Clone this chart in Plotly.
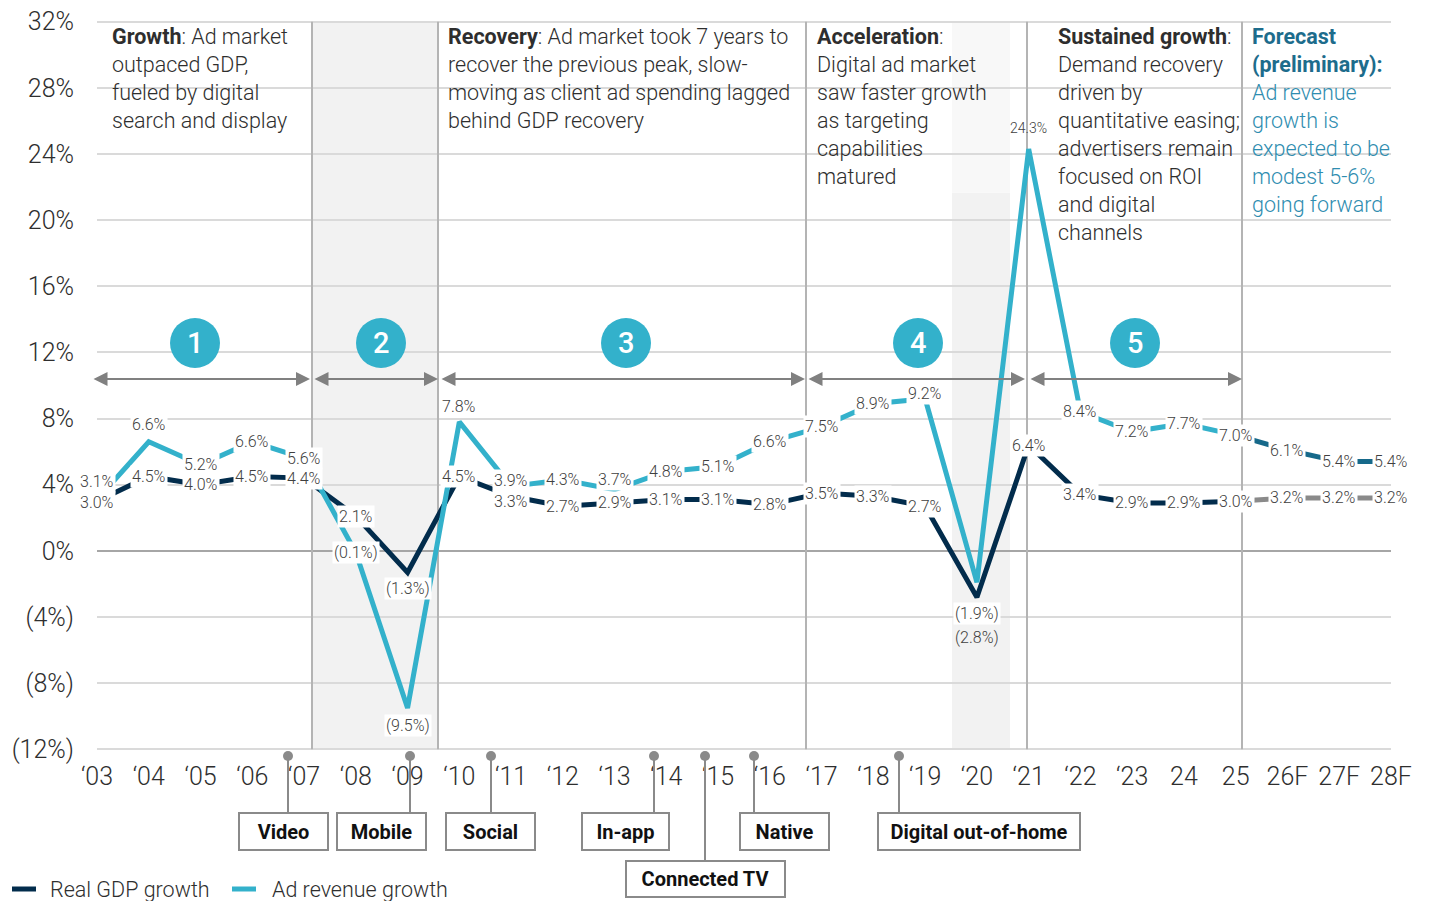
import plotly.graph_objects as go

# ---------------- data ----------------
years = ["‘03", "‘04", "‘05", "‘06", "‘07", "‘08", "‘09", "‘10", "‘11", "‘12", "‘13",
         "‘14", "‘15", "‘16", "‘17", "‘18", "‘19", "‘20", "‘21", "‘22", "‘23", "24",
         "25", "26F", "27F", "28F"]
ad_revenue = [3.1, 6.6, 5.2, 6.6, 5.6, -0.1, -9.5, 7.8, 3.9, 4.3, 3.7, 4.8, 5.1, 6.6,
              7.5, 8.9, 9.2, -1.9, 24.3, 8.4, 7.2, 7.7, 7.0, 6.1, 5.4, 5.4]
real_gdp = [3.0, 4.5, 4.0, 4.5, 4.4, 2.1, -1.3, 4.5, 3.3, 2.7, 2.9, 3.1, 3.1, 2.8,
            3.5, 3.3, 2.7, -2.8, 6.4, 3.4, 2.9, 2.9, 3.0, 3.2, 3.2, 3.2]
forecast_start = 22  # index of '25', forecast segments start here
series_names = ["Real GDP growth", "Ad revenue growth"]

y_ticks = [-12, -8, -4, 0, 4, 8, 12, 16, 20, 24, 28, 32]
y_ticktext = ["(12%)", "(8%)", "(4%)", "0%", "4%", "8%", "12%", "16%", "20%", "24%", "28%", "32%"]

phase_numbers = ["1", "2", "3", "4", "5"]
phase_texts = [
    "<b>Growth</b>: Ad market<br>outpaced GDP,<br>fueled by digital<br>search and display",
    "<b>Recovery</b>: Ad market took 7 years to<br>recover the previous peak, slow-<br>moving as client ad spending lagged<br>behind GDP recovery",
    "<b>Acceleration</b>:<br>Digital ad market<br>saw faster growth<br>as targeting<br>capabilities<br>matured",
    "<b>Sustained growth</b>:<br>Demand recovery<br>driven by<br>quantitative easing;<br>advertisers remain<br>focused on ROI<br>and digital<br>channels",
    "<span style='color:#1d6c8c'><b>Forecast<br>(preliminary):</b></span><br>Ad revenue<br>growth is<br>expected to be<br>modest 5-6%<br>going forward",
]
callout_labels = ["Video", "Mobile", "Social", "In-app", "Connected TV", "Native", "Digital out-of-home"]

# ---------------- styling / positions ----------------
NAVY = "#022c4c"
CYAN = "#33b1cb"
TEAL_F = "#16698a"
GRAY_F = "#8a8a8a"
TXT = "#2e2e2e"
FONT = "Roboto"
LIGHT = 300

OFF = 8  # page body margin
SW, SH = 1429, 901  # screen size
W, H = SW - OFF, SH - OFF
PL, PR, PT, PB = 97, 1391, 20, 751  # plot area in screen pixels
ML, MR, MT, MB = PL - OFF, SW - PR, PT - OFF, SH - PB
PW, PH = PR - PL, PB - PT
XSTEP = PW / (len(years) - 1)


def px2x(px):  # screen x -> data x
    return (px - PL) / XSTEP


def px2py(py):  # screen y -> paper y
    return (PB - py) / PH


def px2px_paper(px):  # screen x -> paper x
    return (px - PL) / PW


def fmt(v):
    return f"({abs(v):.1f}%)" if v < 0 else f"{v:.1f}%"


x = list(range(len(years)))

fig = go.Figure()
fig.add_trace(go.Scatter(x=x[:forecast_start + 1], y=real_gdp[:forecast_start + 1], mode="lines",
                         line=dict(color=NAVY, width=5), name=series_names[0]))
fig.add_trace(go.Scatter(x=x[:forecast_start + 1], y=ad_revenue[:forecast_start + 1], mode="lines",
                         line=dict(color=CYAN, width=5), name=series_names[1]))
fig.add_trace(go.Scatter(x=x[forecast_start:], y=real_gdp[forecast_start:], mode="lines",
                         line=dict(color=GRAY_F, width=5), showlegend=False))
fig.add_trace(go.Scatter(x=x[forecast_start:], y=ad_revenue[forecast_start:], mode="lines",
                         line=dict(color=TEAL_F, width=5), showlegend=False))

shapes = []
annotations = []

# shaded periods
shapes.append(dict(type="rect", xref="x", yref="y", x0=px2x(312), x1=px2x(438), y0=-12, y1=32,
                   fillcolor="#f2f2f2", line_width=0, layer="below"))
shapes.append(dict(type="rect", xref="x", yref="y", x0=px2x(952), x1=px2x(1010), y0=-12, y1=21.65,
                   fillcolor="#f2f2f2", line_width=0, layer="below"))
shapes.append(dict(type="rect", xref="x", yref="y", x0=px2x(952), x1=px2x(1010), y0=21.65, y1=32,
                   fillcolor="#f8f8f8", line_width=0, layer="below"))
# vertical phase separators
for vpx in [312, 438, 806, 1027, 1242]:
    shapes.append(dict(type="line", xref="x", yref="y", x0=px2x(vpx), x1=px2x(vpx), y0=-12, y1=32,
                       line=dict(color="#b4b4b4", width=2), layer="between"))

# phase arrows
arrow_y = 10.4
for a_px, b_px in [(92, 310), (313, 438), (440, 805), (807, 1025), (1029, 1242)]:
    annotations.append(dict(xref="paper", yref="y", x=px2px_paper(b_px), y=arrow_y,
                            ax=-(b_px - a_px), ay=0, axref="pixel", ayref="pixel",
                            text="", showarrow=True, arrowhead=2, startarrowhead=2,
                            arrowside="end+start", arrowsize=1.4, startarrowsize=1.4,
                            arrowwidth=2, arrowcolor="#808080", standoff=0, startstandoff=0))

# phase number circles
circle_y = 12.57
for num, cpx in zip(phase_numbers, [195, 381, 626, 918, 1135]):
    shapes.append(dict(type="circle", xref="x", yref="y", xsizemode="pixel", ysizemode="pixel",
                       xanchor=px2x(cpx), yanchor=circle_y, x0=-25, x1=25, y0=-25, y1=25,
                       fillcolor=CYAN, line_width=0, layer="above"))
    annotations.append(dict(xref="x", yref="y", x=px2x(cpx), y=circle_y, text=num, showarrow=False,
                            xanchor="center", yanchor="middle",
                            font=dict(family=FONT, size=29, color="white", weight=500)))

# phase description text blocks
for txt, tpx in zip(phase_texts, [110, 446, 815, 1056, 1250]):
    color = "#2f8db0" if txt.startswith("<span") else TXT
    annotations.append(dict(xref="paper", yref="paper", x=px2px_paper(tpx), y=px2py(22),
                            xanchor="left", yanchor="top", align="left", text=txt, showarrow=False,
                            font=dict(family=FONT, size=21.5, color=color, weight=LIGHT)))

# data labels
cyan_shift = [18, 17, 0, 0, 0, 0, -17, 15, 6, 0, 10, 0, 0, 0, 0, 0, 5, -31, 21, 0, 0, 0, 0, 0, 0, 0]
navy_shift = [-1, 0, 0, 0, 0, 0, -16, 0, -5, 0, 0, 0, 0, 0, 0, 0, 0, -40, 0, 0, 0, 0, 0, 0, 0, 0]
for i, (a, g) in enumerate(zip(ad_revenue, real_gdp)):
    annotations.append(dict(xref="x", yref="y", x=i, y=g, yshift=navy_shift[i], text=fmt(g),
                            showarrow=False, xanchor="center", yanchor="middle",
                            bgcolor="white" if i != 17 else "rgba(0,0,0,0)", borderpad=1,
                            font=dict(family=FONT, size=16, color="#404040", weight=LIGHT)))
    annotations.append(dict(xref="x", yref="y", x=i, y=a, yshift=cyan_shift[i], text=fmt(a),
                            showarrow=False, xanchor="center", yanchor="middle",
                            bgcolor="white" if i != 18 else "rgba(0,0,0,0)", borderpad=1,
                            font=dict(family=FONT, size=16 if i != 18 else 14, color="#404040",
                                      weight=LIGHT)))

# digital channel callouts
callout_stem_px = [288, 410, 491, 654, 705, 754, 899]
callout_box = [(238, 329, 812, 851), (336, 427, 812, 851), (445, 536, 812, 851), (581, 670, 812, 851),
               (625, 786, 860, 898), (739, 830, 812, 851), (877, 1081, 812, 851)]
for lab, spx, (x0, x1, y0, y1) in zip(callout_labels, callout_stem_px, callout_box):
    shapes.append(dict(type="line", xref="x", yref="paper", x0=px2x(spx), x1=px2x(spx),
                       y0=px2py(756), y1=px2py(y0), line=dict(color="#8a8a8a", width=2)))
    shapes.append(dict(type="circle", xref="x", yref="paper", xsizemode="pixel", ysizemode="pixel",
                       xanchor=px2x(spx), yanchor=px2py(756), x0=-5, x1=5, y0=-5, y1=5,
                       fillcolor="#8a8a8a", line_width=0))
    annotations.append(dict(xref="paper", yref="paper", x=px2px_paper((x0 + x1) / 2),
                            y=px2py((y0 + y1) / 2), xanchor="center", yanchor="middle",
                            text=f"<b>{lab}</b>", showarrow=False,
                            width=x1 - x0 - 4, height=y1 - y0 - 4, bgcolor="white",
                            bordercolor="#8a8a8a", borderwidth=2, borderpad=0,
                            font=dict(family=FONT, size=20, color="#111111")))

# legend (drawn manually for exact placement)
for name, col, (s0, s1, tx) in zip(series_names, [NAVY, CYAN], [(12, 36, 48), (232, 256, 270)]):
    shapes.append(dict(type="line", xref="paper", yref="paper", x0=px2px_paper(s0),
                       x1=px2px_paper(s1), y0=px2py(889), y1=px2py(889),
                       line=dict(color=col, width=5)))
    annotations.append(dict(xref="paper", yref="paper", x=px2px_paper(tx), y=px2py(889),
                            xanchor="left", yanchor="middle", text=name, showarrow=False,
                            font=dict(family=FONT, size=21.5, color=TXT, weight=LIGHT)))

fig.update_layout(
    width=W, height=H,
    margin=dict(l=ML, r=MR, t=MT, b=MB, pad=0, autoexpand=False),
    paper_bgcolor="white", plot_bgcolor="white",
    font=dict(family=FONT, color=TXT),
    shapes=shapes, annotations=annotations,
    showlegend=False,
    xaxis=dict(range=[0, len(years) - 1], tickmode="array", tickvals=x, ticktext=years,
               showgrid=False, zeroline=False, showline=False, ticks="",
               tickfont=dict(family=FONT, size=25, color=TXT, weight=LIGHT), ticklabelstandoff=8,
               fixedrange=True),
    yaxis=dict(range=[-12.1, 32.1], tickmode="array", tickvals=y_ticks, ticktext=y_ticktext,
               showgrid=True, gridcolor="#dadada", gridwidth=1.5,
               zeroline=True, zerolinecolor="#a6a6a6", zerolinewidth=1.5,
               showline=False, ticks="", ticklabelstandoff=22, ticklabeloverflow="allow",
               tickfont=dict(family=FONT, size=25, color=TXT, weight=LIGHT), fixedrange=True),
)

fig.write_html("out.html")
